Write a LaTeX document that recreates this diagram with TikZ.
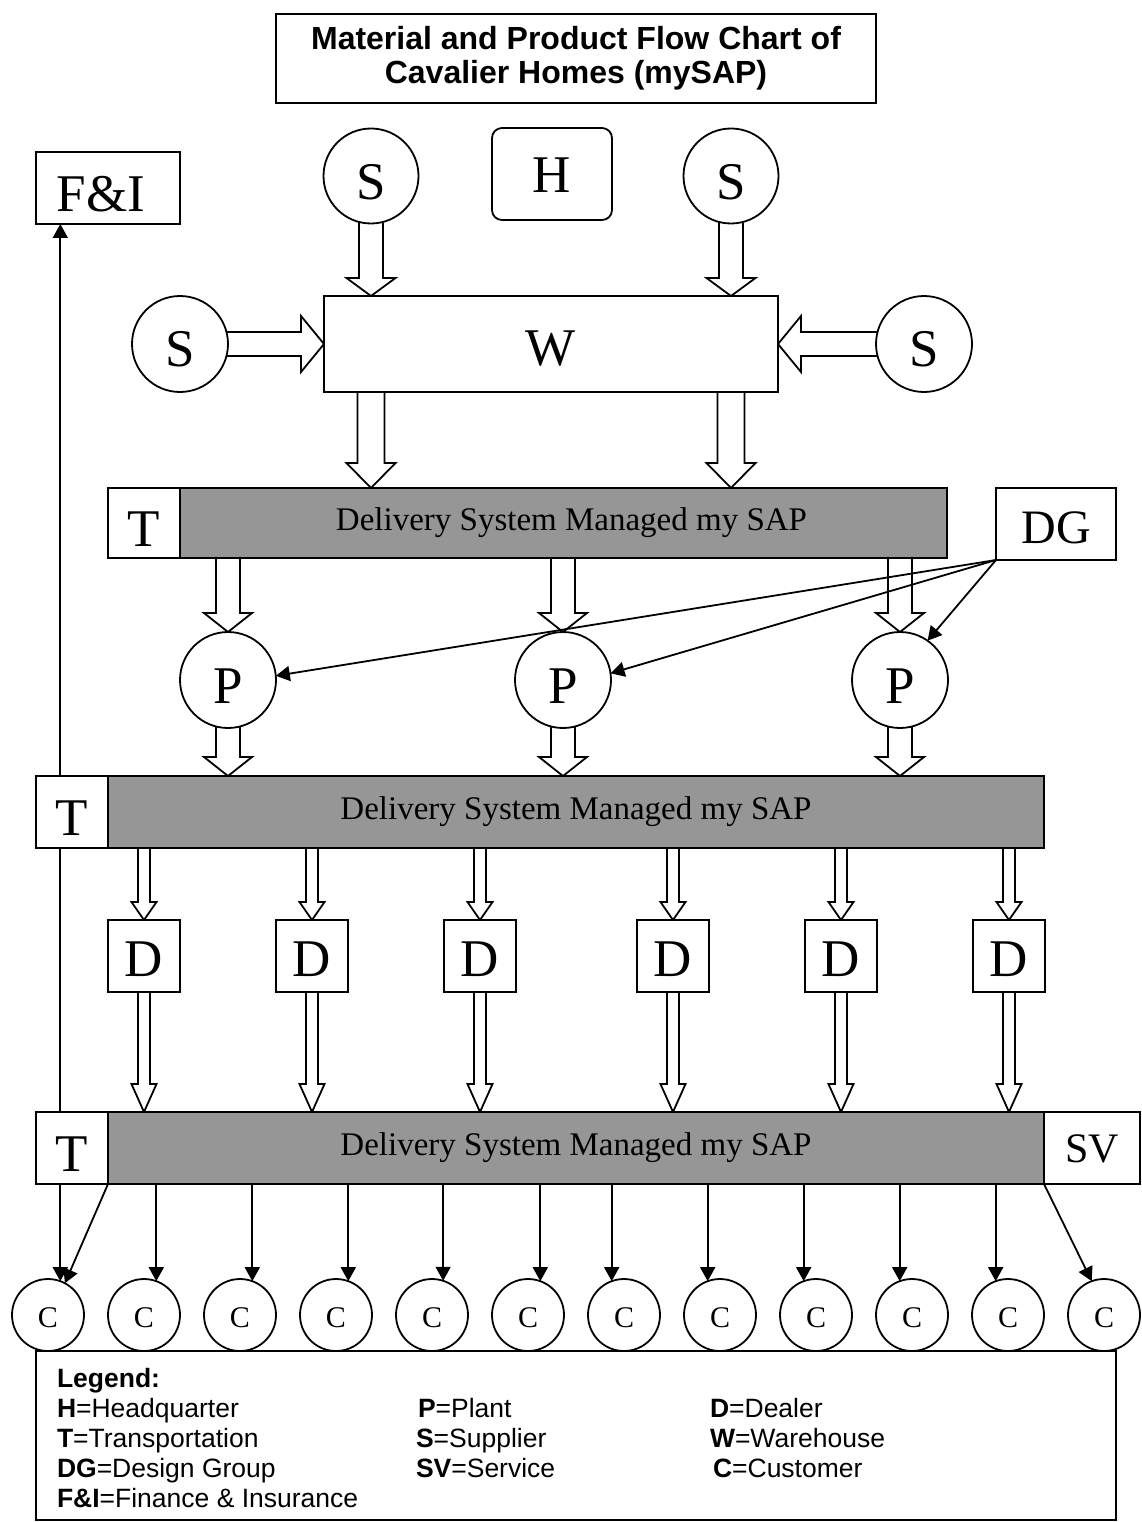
\documentclass[tikz,border=0pt]{standalone}
\usepackage{fontspec}
\setmainfont{Liberation Serif}
\setsansfont{Liberation Sans}
\usetikzlibrary{arrows.meta,calc,backgrounds}
\definecolor{bandgray}{RGB}{150,150,150}
\newcommand\hollowdown[5]{%
  \draw[hollow] let \p1=#1, \p2=#2 in
    (\x1-#3,\y1) -- (\x1-#3,\y2+#5) -- (\x1-#4,\y2+#5) -- (\x1,\y2) --
    (\x1+#4,\y2+#5) -- (\x1+#3,\y2+#5) -- (\x1+#3,\y1) -- cycle;}
\newcommand\hollowright[5]{%
  \draw[hollow] let \p1=#1, \p2=#2 in
    (\x1,\y1-#3) -- (\x2-#5,\y1-#3) -- (\x2-#5,\y1-#4) -- (\x2,\y1) --
    (\x2-#5,\y1+#4) -- (\x2-#5,\y1+#3) -- (\x1,\y1+#3) -- cycle;}
\newcommand\hollowleft[5]{%
  \draw[hollow] let \p1=#1, \p2=#2 in
    (\x1,\y1-#3) -- (\x2+#5,\y1-#3) -- (\x2+#5,\y1-#4) -- (\x2,\y1) --
    (\x2+#5,\y1+#4) -- (\x2+#5,\y1+#3) -- (\x1,\y1+#3) -- cycle;}
\tikzset{
  every node/.style={inner sep=0pt, outer sep=0pt},
  lw/.style={line width=1.8pt},
  box/.style={draw, lw, fill=white, font=\fontsize{53}{60}\selectfont, text height=47pt, text depth=0pt},
  circ/.style={circle, draw, lw, fill=white, font=\fontsize{53}{60}\selectfont, text height=46pt, text depth=0pt},
  band/.style={draw, lw, fill=bandgray, minimum height=#1, font=\fontsize{33}{36}\selectfont},
  hollow/.style={draw, lw, fill=white, line join=miter},
  tarrow/.style={lw, -{Triangle[length=14pt,width=15pt]}},
  legtext/.style={anchor=base west, font=\sffamily\fontsize{26.5}{30}\selectfont},
}
\begin{document}
\begin{tikzpicture}[x=1pt,y=-1pt]
\useasboundingbox (0,0) rectangle (1142,1522);
% title
\node[draw, lw, minimum width=600pt, minimum height=89pt, align=center,
  font=\sffamily\bfseries\fontsize{32}{34}\selectfont] (title) at (576,58.5)
  {Material and Product Flow Chart of\\Cavalier Homes (mySAP)};
% top row
\node[box, minimum width=144pt, minimum height=72pt] (FI) at (108,188) {\hspace*{-14pt}F\&I};
\node[circ, minimum size=95pt, text height=47pt] (S1) at (371,176) {S};
\node[box, rounded corners=10pt, minimum width=120pt, minimum height=92pt, text height=37pt] (H) at (552,174) {H};
\node[circ, minimum size=95pt, text height=47pt] (S2) at (731,176) {S};
\node[circ, minimum size=96pt, text height=45pt] (S3) at (180,344) {S};
\node[circ, minimum size=96pt, text height=45pt] (S4) at (924,344) {S};
\node[box, minimum width=454pt, minimum height=96pt, text height=43pt] (W) at (551,344) {W};
% delivery row 1
\node[band=70pt, minimum width=767pt] (B1) at (563.5,523) {\hspace*{16pt}Delivery System Managed my SAP};
\node[box, minimum width=72pt, minimum height=70pt] (T1) at (144,523) {T};
\node[box, minimum width=120pt, minimum height=72pt, font=\fontsize{48}{54}\selectfont, text height=39pt] (DG) at (1056,524) {DG};
% plants
\node[circ, minimum size=96pt] (P1) at (228,680) {P};
\node[circ, minimum size=96pt] (P2) at (563,680) {P};
\node[circ, minimum size=96pt] (P3) at (900,680) {P};
% delivery row 2
\node[band=72pt, minimum width=936pt] (B2) at (576,812) {Delivery System Managed my SAP};
\node[box, minimum width=72pt, minimum height=72pt] (T2) at (72,812) {T};
% dealers
\foreach \i/\xx in {1/144,2/312,3/480,4/673,5/841,6/1009}
  \node[box, minimum width=72pt, minimum height=72pt, text height=41pt] (D\i) at (\xx,956) {D};
% delivery row 3
\node[band=72pt, minimum width=936pt] (B3) at (576,1148) {Delivery System Managed my SAP};
\node[box, minimum width=72pt, minimum height=72pt] (T3) at (72,1148) {T};
\node[box, minimum width=96pt, minimum height=72pt, font=\fontsize{42}{48}\selectfont, text height=28pt] (SV) at (1092,1148) {SV};
% legend
\node[draw, lw, fill=white, minimum width=1080pt, minimum height=169pt] (L) at (576,1435.5) {};
\node[legtext] (l0) at (57,1387) {\textbf{Legend:}};
\node[legtext] (l1) at (57,1417) {\textbf{H}=Headquarter};
\node[legtext] (l2) at (57,1447) {\textbf{T}=Transportation};
\node[legtext] (l3) at (57,1477) {\textbf{DG}=Design Group};
\node[legtext] (l4) at (57,1507) {\textbf{F\&I}=Finance \& Insurance};
\node[legtext] (l5) at (418,1417) {\textbf{P}=Plant};
\node[legtext] (l6) at (416,1447) {\textbf{S}=Supplier};
\node[legtext] (l7) at (416,1477) {\textbf{SV}=Service};
\node[legtext] (l8) at (710,1417) {\textbf{D}=Dealer};
\node[legtext] (l9) at (710,1447) {\textbf{W}=Warehouse};
\node[legtext] (l10) at (713,1477) {\textbf{C}=Customer};
% customers
\foreach \k in {1,...,12}
  \node[circ, minimum size=72pt, font=\fontsize{30}{34}\selectfont, text height=25pt] (C\k) at ({48+96*(\k-1)},1315) {C};
% hollow arrows and F&I line behind the nodes
\begin{scope}[on background layer]
  \hollowdown{(S1.center)}{(W.north -| S1)}{12pt}{24.5pt}{18pt}
  \hollowdown{(S2.center)}{(W.north -| S2)}{12pt}{24.5pt}{18pt}
  \hollowright{(S3.center)}{(W.west |- S3)}{12pt}{28pt}{23pt}
  \hollowleft{(S4.center)}{(W.east |- S4)}{12pt}{28pt}{23pt}
  \hollowdown{(W.center -| S1)}{(B1.north -| S1)}{13.5pt}{24.5pt}{25pt}
  \hollowdown{(W.center -| S2)}{(B1.north -| S2)}{13.5pt}{24.5pt}{25pt}
  \foreach \pl in {P1,P2,P3} {
    \hollowdown{(B1.center -| \pl)}{(\pl.north)}{12pt}{24pt}{19pt}
    \hollowdown{(\pl.center)}{(B2.north -| \pl)}{12pt}{24pt}{19pt}
  }
  \foreach \i in {1,...,6} {
    \hollowdown{(B2.center -| D\i)}{(D\i.north)}{6pt}{12.5pt}{18pt}
    \hollowdown{(D\i.center)}{(B3.north -| D\i)}{6pt}{12.5pt}{28pt}
  }
  \draw[tarrow] (C1.70 |- T3.center) -- (C1.70 |- FI.south);
\end{scope}
% design group arrows
\draw[tarrow] (DG.south west) -- (P1.5);
\draw[tarrow] (DG.south west) -- (P2.8);
\draw[tarrow] (DG.south west) -- (P3.55);
% arrows to customers
\draw[tarrow] (C1.70 |- T3.south) -- (C1.70);
\draw[tarrow] (B3.south west) -- (C1.62);
\foreach \k/\a in {2/70,3/70,4/70,5/72,6/70,7/110,8/110,9/110,10/110,11/110}
  \draw[tarrow] (C\k.\a |- B3.south) -- (C\k.\a);
\draw[tarrow] (B3.south east) -- (C12.110);
\end{tikzpicture}
\end{document}
